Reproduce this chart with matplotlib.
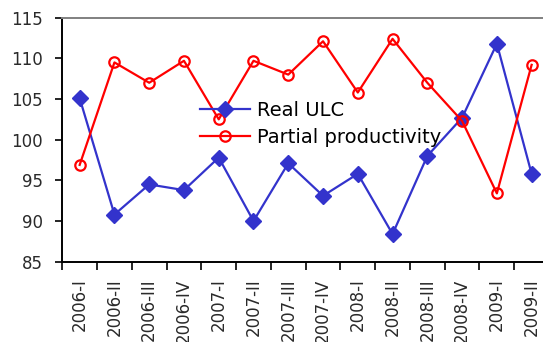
import matplotlib
matplotlib.use("Agg")
import matplotlib.pyplot as plt
import numpy as np

quarters = ["2006-I", "2006-II", "2006-III", "2006-IV",
            "2007-I", "2007-II", "2007-III", "2007-IV",
            "2008-I", "2008-II", "2008-III", "2008-IV",
            "2009-I", "2009-II"]
real_ulc = [105.1, 90.8, 94.5, 93.8, 97.8, 90.0, 97.1, 93.1,
            95.8, 88.4, 98.0, 102.7, 111.8, 95.8]
partial_productivity = [96.9, 109.5, 107.0, 109.7, 102.5, 109.7, 108.0, 112.1,
                        105.8, 112.4, 107.0, 102.3, 93.4, 109.2]
y_ticks = [85, 90, 95, 100, 105, 110, 115]

plt.rcParams["font.family"] = ["DejaVu Sans"]

fig = plt.figure(figsize=(5.43, 3.42), dpi=100)
# plot area runs past the right edge of the canvas
ax = fig.add_axes([0.1147, 0.2348, 0.9604, 0.7135])

x = np.arange(len(quarters))
ax.plot(x, real_ulc, color="#3333CC", lw=1.6, marker="D", markersize=8,
        label="Real ULC", clip_on=False, zorder=3)
ax.plot(x, partial_productivity, color="#FF0000", lw=1.6, marker="o", markersize=7.5,
        markerfacecolor="none", markeredgewidth=1.6, label="Partial productivity",
        clip_on=False, zorder=3)

ax.set_xlim(-0.5, 14.5)
ax.set_ylim(85, 115)
ax.set_yticks(y_ticks)
ax.set_yticklabels([str(v) for v in y_ticks], fontsize=12, color="#2a2a2a")

ax.set_xticks(x)
ax.set_xticklabels(quarters, rotation=90, fontsize=12, color="#2a2a2a")
ax.tick_params(axis="x", which="major", length=0, pad=12)
ax.set_xticks(np.arange(-0.5, 15, 1), minor=True)
ax.tick_params(axis="x", which="minor", length=6, width=1.2, direction="out")
ax.tick_params(axis="y", length=5, width=1.2, direction="out", pad=9)

for side in ["left", "bottom"]:
    ax.spines[side].set_color("black")
    ax.spines[side].set_linewidth(1.4)
ax.spines["top"].set_color("#808080")
ax.spines["top"].set_linewidth(1.4)
ax.spines["right"].set_visible(False)

fig.legend(loc="center left", bbox_to_anchor=(0.368, 0.637), frameon=False,
           fontsize=14, handlelength=2.6, handletextpad=0.35, labelspacing=0.4,
           borderpad=0, borderaxespad=0)

fig.savefig("out.png", dpi=100)
